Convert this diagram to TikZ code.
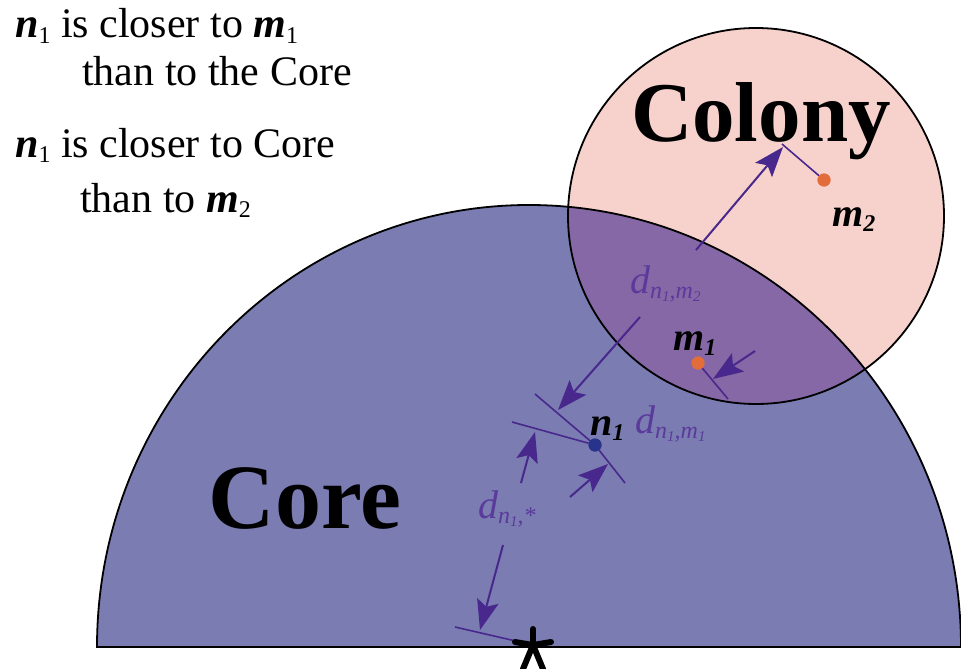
\documentclass[tikz,border=0pt]{standalone}
\usepackage{fontspec}
\setmainfont{Liberation Serif}
\usepackage{tikz}
\usetikzlibrary{arrows.meta,calc,positioning}
\definecolor{corefill}{RGB}{122,124,178}
\definecolor{colonyfill}{RGB}{247,210,204}
\definecolor{overlapfill}{RGB}{134,104,166}
\definecolor{dimline}{RGB}{72,40,140}
\definecolor{dimtext}{RGB}{90,58,155}
\definecolor{npoint}{RGB}{40,52,140}
\definecolor{mpoint}{RGB}{226,108,58}
\newcommand{\bi}[1]{\textbf{\textit{#1}}}
\newcommand{\lsub}[2][24]{\raisebox{-0.14em}{\fontsize{#1}{#1}\selectfont #2}}
\tikzset{
  outline/.style={draw=black,line width=1.8pt},
  ndot/.style={circle,fill=npoint,minimum size=13pt,inner sep=0pt},
  mdot/.style={circle,fill=mpoint,minimum size=13pt,inner sep=0pt},
  extline/.style={dimline,line width=1.6pt},
  dimarrow/.style={-{Stealth[length=30pt,width=22pt,inset=6pt]},dimline,line width=2pt},
  dlabel/.style={text=dimtext,font=\fontsize{40}{44}\selectfont\itshape,
    inner sep=0pt,anchor=base west},
  ptlabel/.style={font=\fontsize{40}{44}\selectfont\bfseries\itshape,
    inner sep=0pt,anchor=base west},
  note/.style={font=\fontsize{42}{48}\selectfont,inner sep=0pt,anchor=base west},
  bigname/.style={inner sep=0pt,anchor=base},
  starline/.style={line width=6pt,line cap=round,black}
}

\begin{document}
\begin{tikzpicture}[x=1pt,y=-1pt]
  \useasboundingbox (0,0) rectangle (961,669);
  \coordinate (colc) at (756,216);
  \fill[corefill] (97,647) arc[start angle=180,end angle=360,x radius=432,y radius=442] -- cycle;
  \fill[colonyfill] (colc) circle[radius=188];
  \begin{scope}
    \clip (97,647) arc[start angle=180,end angle=360,x radius=432,y radius=442] -- cycle;
    \fill[overlapfill] (colc) circle[radius=188];
  \end{scope}
  \draw[outline] (97,647) arc[start angle=180,end angle=360,x radius=432,y radius=442] -- cycle;
  \draw[outline] (colc) circle[radius=188];

  \node[bigname,font=\fontsize{92}{96}\selectfont\bfseries] (corename) at (305,528) {Core};
  \node[bigname,font=\fontsize{85}{90}\selectfont\bfseries] (colonyname) at (761,141) {Colony};

  \node[note] (txt1) at (15,38) {\bi{n}\lsub{1} is closer to \bi{m}\lsub{1}};
  \node[note] (txt2) at (82,85) {than to the Core};
  \node[note] (txt3) at (15,157) {\bi{n}\lsub{1} is closer to Core};
  \node[note] (txt4) at (80,212) {than to \bi{m}\lsub{2}};

  \node[ndot] (n1) at (595,445) {};
  \node[mdot] (m1) at (698,363) {};
  \node[mdot] (m2) at (824,180) {};
  \coordinate (star) at (533,645);

  \coordinate (x12a) at (535,394);
  \coordinate (x12b) at (782,144);
  \coordinate (x11a) at (625,483);
  \coordinate (x11b) at (728,399);
  \coordinate (xsa) at (512,422);
  \coordinate (xsb) at (455,627);
  \coordinate (a12) at (640,317);
  \coordinate (a12tip) at (558,410);
  \coordinate (b12) at (696,250);
  \coordinate (b12tip) at (783,147);
  \coordinate (a11) at (570,497);
  \coordinate (a11tip) at (608,464);
  \coordinate (b11) at (755,351);
  \coordinate (b11tip) at (713,379);
  \coordinate (as) at (521,483);
  \coordinate (astip) at (535,432);
  \coordinate (bs) at (503,545);
  \coordinate (bstip) at (480,630);

  \draw[extline] (n1) -- (x12a);
  \draw[extline] (m2) -- (x12b);
  \draw[extline] (n1) -- (x11a);
  \draw[extline] (m1) -- (x11b);
  \draw[extline] (n1) -- (xsa);
  \draw[extline] (star) -- (xsb);
  \draw[dimarrow] (a12) -- (a12tip);
  \draw[dimarrow] (b12) -- (b12tip);
  \draw[dimarrow] (a11) -- (a11tip);
  \draw[dimarrow] (b11) -- (b11tip);
  \draw[dimarrow] (as) -- (astip);
  \draw[dimarrow] (bs) -- (bstip);

  \node[ndot] at (n1) {};
  \node[mdot] at (m1) {};
  \node[mdot] at (m2) {};

  \draw[starline] (star) -- ++(0,-16);
  \draw[starline] (star) -- ++(-18,-3);
  \draw[starline] (star) -- ++(18,-3);
  \draw[starline] (star) -- ++(-10,24);
  \draw[starline] (star) -- ++(10,24);

  \node[ptlabel] (n1lab) at (590,435) {n\lsub{1}};
  \node[ptlabel] (m1lab) at (673,350) {m\lsub{1}};
  \node[ptlabel] (m2lab) at (832,226) {m\lsub{2}};
  \node[dlabel] (d12lab) at (630,293) {d\lsub{n\lsub[15]{1},m\lsub[15]{2}}};
  \node[dlabel] (d11lab) at (635,433) {d\lsub{n\lsub[15]{1},m\lsub[15]{1}}};
  \node[dlabel] (dslab) at (478,518) {d\lsub{n\lsub[15]{1},*}};
\end{tikzpicture}
\end{document}
